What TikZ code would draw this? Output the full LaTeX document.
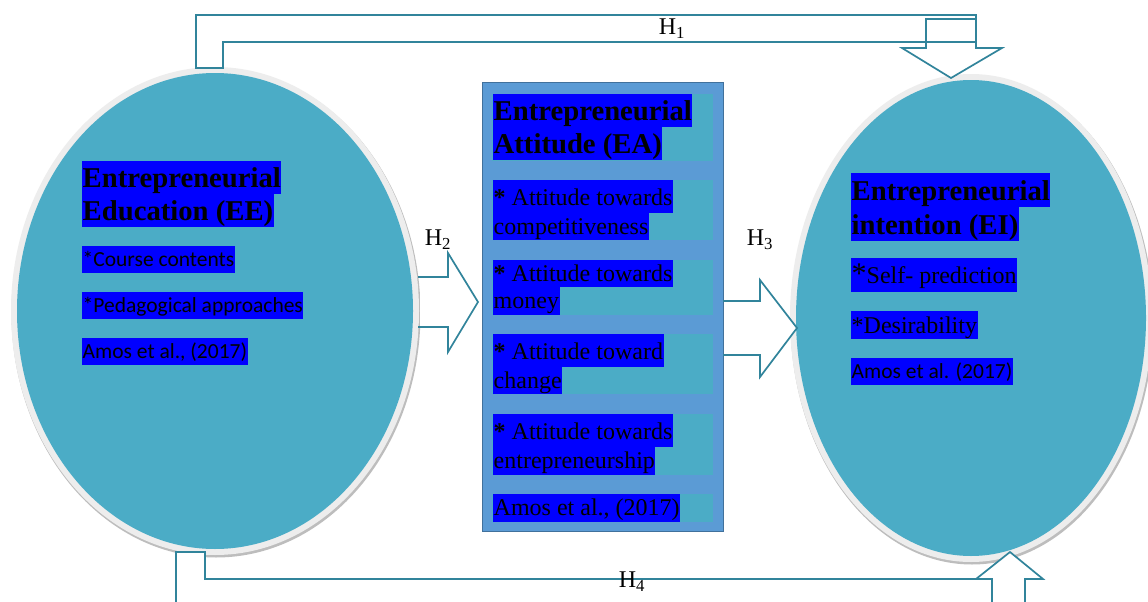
\documentclass[tikz,border=0pt]{standalone}
\usepackage{fontspec}
\setmainfont{Liberation Serif}
\newfontfamily\calfont{Carlito}
\usetikzlibrary{shapes.geometric}
\definecolor{ellfill}{HTML}{4BACC6}
\definecolor{boxfill}{HTML}{5B9BD5}
\definecolor{boxline}{HTML}{41719C}
\definecolor{arrline}{HTML}{31849B}
\definecolor{rimc}{HTML}{EDEDED}
\definecolor{shadowc}{HTML}{BDBDBD}
\definecolor{hlblue}{HTML}{0000FF}
\newcommand{\bigast}{\textbf{*}}
\newcommand{\tallast}{{\fontsize{30}{28}\selectfont *}}
\begin{document}
\begin{tikzpicture}[x=1pt,y=-1pt,
  hl/.style={fill=hlblue, inner xsep=0.5pt, inner ysep=0pt, anchor=north west, text=black},
  tl/.style={hl, font=\fontsize{28.7}{33}\selectfont\bfseries, text height=26pt, text depth=7pt},
  ta/.style={hl, font=\fontsize{24}{28}\selectfont, text height=25pt, text depth=8pt},
  tb/.style={hl, font=\fontsize{24}{28}\selectfont, text height=21pt, text depth=6pt},
  cl/.style={hl, font=\fontsize{21.5}{26}\selectfont\calfont, text height=20pt, text depth=7pt},
  ell/.style={ellipse, inner sep=0pt},
  subbox/.style={fill=ellfill, anchor=north west, inner sep=0pt, minimum width=221pt},
  blk/.style={draw=arrline, line width=1.7pt, line join=miter},
  hlab/.style={font=\fontsize{24}{28}\selectfont, inner sep=0pt}
]
\useasboundingbox (0,0) rectangle (1148,602);
\clip (0,0) rectangle (1148,602);
\fill[white] (0,0) rectangle (1148,602);

% ellipses with rim and shadow
\node[ell, fill=shadowc, minimum width=409pt, minimum height=489pt] (EEs) at (216,313) {};
\node[ell, fill=rimc, minimum width=408pt, minimum height=488pt] (EEr) at (215,311) {};
\node[ell, fill=ellfill, minimum width=396pt, minimum height=476pt] (EE) at (215,311) {};

\node[ell, fill=shadowc, minimum width=363pt, minimum height=489pt] (EIs) at (972,320) {};
\node[ell, fill=rimc, minimum width=362pt, minimum height=488pt] (EIr) at (971,318) {};
\node[ell, fill=ellfill, minimum width=350pt, minimum height=476pt] (EI) at (971,318) {};

% middle box
\node[draw=boxline, line width=1.2pt, fill=boxfill, anchor=north west, inner sep=0pt,
      minimum width=241pt, minimum height=449pt] (EA) at (482,82) {};
\node[subbox, minimum height=67pt] (s1) at (492,94) {};
\node[subbox, minimum height=60pt] (s2) at (492,180) {};
\node[subbox, minimum height=55pt] (s3) at (492,260) {};
\node[subbox, minimum height=60pt] (s4) at (492,334) {};
\node[subbox, minimum height=61pt] (s5) at (492,414) {};
\node[subbox, minimum height=28pt] (s6) at (492,494) {};

% left texts
\node[tl] (le1) at (82,161) {Entrepreneurial};
\node[tl] (le2) at (82,194) {Education (EE)};
\node[cl] (le3) at (82,246) {*Course contents};
\node[cl] (le4) at (82,292) {*Pedagogical approaches};
\node[cl] (le5) at (82,338) {Amos et al., (2017)};

% middle texts
\node[tl] (m1a) at (493,94) {Entrepreneurial};
\node[tl] (m1b) at (493,127) {Attitude (EA)};
\node[ta] (m2a) at (493,180) {\bigast{} Attitude towards};
\node[tb] (m2b) at (493,213) {competitiveness};
\node[tb] (m3a) at (493,260) {\bigast{} Attitude towards};
\node[tb, text depth=7pt] (m3b) at (493,287) {money};
\node[ta] (m4a) at (493,334) {\bigast{} Attitude toward};
\node[tb] (m4b) at (493,367) {change};
\node[ta] (m5a) at (493,414) {\bigast{} Attitude towards};
\node[tb, text depth=7pt] (m5b) at (493,447) {entrepreneurship};
\node[tb, text depth=7pt] (m6) at (493,494) {Amos et al., (2017)};

% right texts
\node[tl, text height=27pt] (r1) at (851,173) {Entrepreneurial};
\node[tl, text height=27pt] (r2) at (851,207) {intention (EI)};
\node[ta, text depth=9pt] (r3) at (851,258) {\tallast Self- prediction};
\node[tb, text height=22pt] (r4) at (851,311) {*Desirability};
\node[cl] (r5) at (851,358) {Amos et al. (2017)};

% H2 arrow
\fill[white] (420,277)--(448,277)--(448,253)--(478,302)--(448,352)--(448,327)--(420,327)--cycle;
\draw[blk] (418,277)--(448,277)--(448,253)--(478,302)--(448,352)--(448,327)--(418,327);
% H3 arrow
\fill[white] (724,301)--(760,301)--(760,280)--(797,328)--(760,377)--(760,355)--(724,355)--cycle;
\draw[blk] (723,301)--(760,301)--(760,280)--(797,328)--(760,377)--(760,355)--(723,355);

% H1 bent arrow
\draw[blk, fill=white] (196,68)--(196,15)--(976,15)--(976,48)--(1002,48)--(951,78)--(902,48)--(926,48)--(926,42)--(223,42)--(223,68)--cycle;
\draw[blk] (926,42)--(926,19)--(976,19);
\draw[blk] (926,42)--(976,42);

% H4 bent arrow
\draw[blk, fill=white] (176,552)--(205,552)--(205,579)--(976,579)--(1010,552)--(1043,579)--(1025,579)--(1025,640)--(176,640)--cycle;
\draw[blk] (976,579)--(992,579)--(992,640);

% labels
\node[hlab] (h1) at (672,29) {H\textsubscript{1}};
\node[hlab] (h2) at (438,240) {H\textsubscript{2}};
\node[hlab] (h3) at (760,240) {H\textsubscript{3}};
\node[hlab] (h4) at (632,582) {H\textsubscript{4}};
\end{tikzpicture}
\end{document}
